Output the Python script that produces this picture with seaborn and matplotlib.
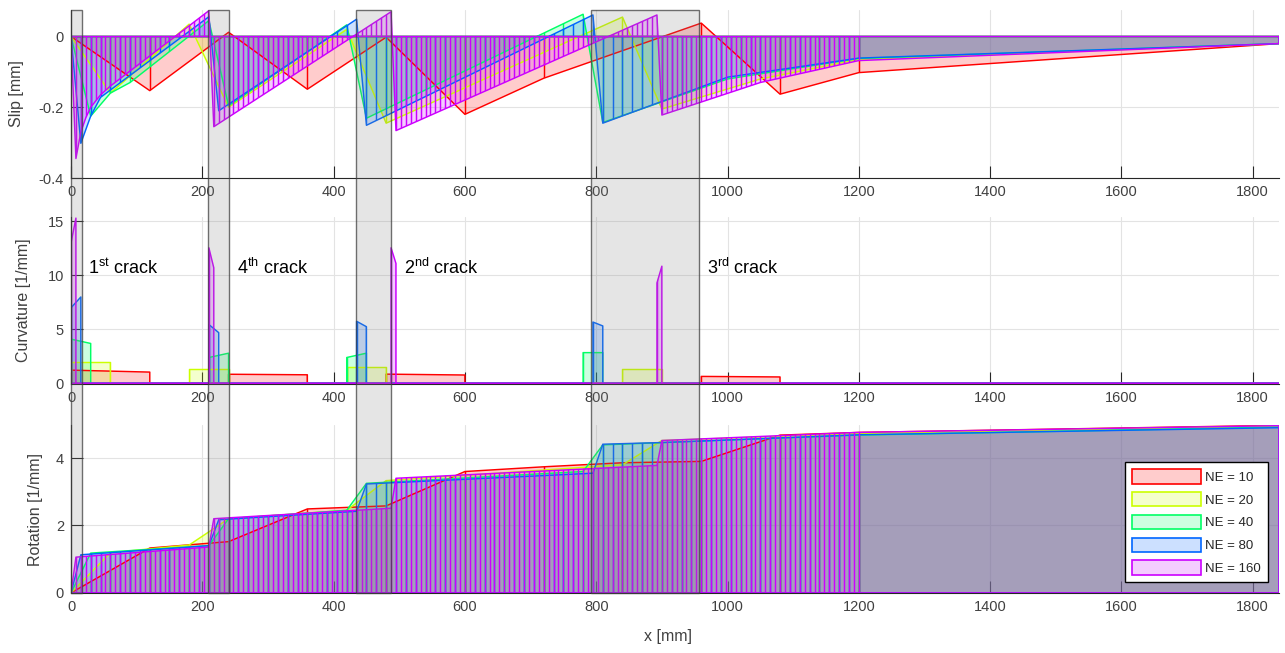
import numpy as np
import matplotlib
matplotlib.use("Agg")
import matplotlib.pyplot as plt
from matplotlib.colors import to_rgb
from matplotlib.patches import Polygon, Rectangle, Patch
import seaborn as sns

# ── Mesh / series definitions ────────────────────────────────────────────────
NE_VALUES = [10, 20, 40, 80, 160]
NE_LABELS = ["NE = 10", "NE = 20", "NE = 40", "NE = 80", "NE = 160"]
COLORS    = ["#ff0000", "#ccff00", "#00ff66", "#0066ff", "#cc00ff"]   # hsv(5)

L_MESH  = 1200.0   # refined part of the beam
L_TOTAL = 1840.0   # last element runs 1200 -> 1840

# ── Slip [mm] (breakpoints) ───────────────────────────────────────────────────
slip_x_ne10  = [0, 120, 240, 360, 480, 600, 720, 960, 1080, 1200, 1840]
slip_y_ne10  = [0, -0.153, 0.012, -0.149, -0.002, -0.22, -0.118, 0.038, -0.163, -0.102, -0.02]
slip_x_ne20  = [0, 60, 180, 240, 420, 480, 840, 900, 1050, 1200, 1840]
slip_y_ne20  = [0, -0.16, 0.035, -0.2, 0.02, -0.245, 0.055, -0.205, -0.12, -0.065, -0.02]
slip_x_ne40  = [0, 30, 60, 90, 210, 240, 420, 450, 780, 810, 1000, 1200, 1840]
slip_y_ne40  = [0, -0.225, -0.16, -0.13, 0.045, -0.196, 0.033, -0.231, 0.063, -0.243, -0.12, -0.062, -0.02]
slip_x_ne80  = [0, 15, 30, 45, 210, 225, 435, 450, 795, 810, 1000, 1200, 1840]
slip_y_ne80  = [0, -0.302, -0.225, -0.172, 0.056, -0.21, 0.049, -0.251, 0.061, -0.245, -0.115, -0.061, -0.02]
slip_x_ne160 = [0, 7.5, 15, 22.5, 30, 45, 60, 210, 217.5, 487.5, 495, 892.5, 900, 1050, 1200, 1840]
slip_y_ne160 = [0, -0.345, -0.27, -0.23, -0.2, -0.165, -0.14, 0.073, -0.255, 0.07, -0.266, 0.061, -0.222, -0.13, -0.068, -0.02]

# ── Curvature [1/mm]: non-zero elements (start, end, left value, right value) ─
curv_start_ne10  = [0, 240, 480, 960]
curv_end_ne10    = [120, 360, 600, 1080]
curv_left_ne10   = [1.23, 0.85, 0.86, 0.65]
curv_right_ne10  = [1.05, 0.80, 0.78, 0.60]
curv_start_ne20  = [0, 180, 420, 840]
curv_end_ne20    = [60, 240, 480, 900]
curv_left_ne20   = [1.95, 1.35, 1.55, 1.32]
curv_right_ne20  = [1.95, 1.35, 1.55, 1.32]
curv_start_ne40  = [0, 210, 420, 780]
curv_end_ne40    = [30, 240, 450, 810]
curv_left_ne40   = [4.1, 2.4, 2.4, 2.85]
curv_right_ne40  = [3.7, 2.8, 2.8, 2.85]
curv_start_ne80  = [0, 210, 435, 795]
curv_end_ne80    = [15, 225, 450, 810]
curv_left_ne80   = [7.0, 5.45, 5.75, 5.68]
curv_right_ne80  = [8.0, 4.7, 5.25, 5.32]
curv_start_ne160 = [0, 210, 487.5, 892.5]
curv_end_ne160   = [7.5, 217.5, 495, 900]
curv_left_ne160  = [13.0, 12.55, 12.55, 9.3]
curv_right_ne160 = [15.3, 10.7, 11.1, 10.85]

# ── Rotation [1/mm] ───────────────────────────────────────────────────────────
rot_x_ne10  = [0, 120, 240, 360, 480, 600, 720, 840, 960, 1080, 1200, 1840]
rot_y_ne10  = [0, 1.33, 1.52, 2.49, 2.58, 3.6, 3.74, 3.86, 3.9, 4.68, 4.76, 4.97]
rot_x_ne20  = [0, 60, 180, 240, 420, 480, 840, 900, 1200, 1840]
rot_y_ne20  = [0, 1.19, 1.42, 2.2, 2.45, 3.33, 3.8, 4.52, 4.73, 4.95]
rot_x_ne40  = [0, 30, 210, 240, 420, 450, 780, 810, 1200, 1840]
rot_y_ne40  = [0, 1.18, 1.4, 2.2, 2.45, 3.25, 3.6, 4.39, 4.68, 4.92]
rot_x_ne80  = [0, 15, 210, 225, 435, 450, 795, 810, 900, 1200, 1840]
rot_y_ne80  = [0, 1.13, 1.4, 2.17, 2.42, 3.23, 3.55, 4.41, 4.46, 4.69, 4.9]
rot_x_ne160 = [0, 7.5, 210, 217.5, 487.5, 495, 892.5, 900, 1200, 1840]
rot_y_ne160 = [0, 1.06, 1.36, 2.2, 2.51, 3.4, 3.78, 4.52, 4.76, 4.96]

# ── Crack zones (grey bands) and labels ───────────────────────────────────────
ZONE_START = [0, 209, 434, 792]
ZONE_END   = [16, 240, 488, 956]
CRACK_TEXT = ["1$^{st}$ crack", "4$^{th}$ crack", "2$^{nd}$ crack", "3$^{rd}$ crack"]
CRACK_X    = [26, 253, 507, 968]
CRACK_Y    = 10.7

X_TICKS      = [0, 200, 400, 600, 800, 1000, 1200, 1400, 1600, 1800]
SLIP_TICKS   = [-0.4, -0.2, 0]
SLIP_LABELS  = ["-0.4", "-0.2", "0"]
CURV_TICKS   = [0, 5, 10, 15]
ROT_TICKS    = [0, 2, 4]

FILL_ALPHA = 0.2
EDGE_LW    = 1.05
INK        = "#262626"
TICK_INK   = "#404040"

sns.set_theme(style="whitegrid")
plt.rcParams.update({
    "font.family": ["Liberation Sans", "DejaVu Sans"],
    "mathtext.default": "regular",
    "axes.unicode_minus": False,
    "grid.color": "#e3e3e3",
    "grid.linewidth": 0.8,
})


def curve_outline(xs, ys):
    px = [xs[0]] + list(xs) + [xs[-1], xs[0]]
    py = [0.0] + list(ys) + [0.0, 0.0]
    return np.asarray(px, float), np.asarray(py, float)


def block_outline(starts, ends, left, right):
    px, py = [0.0], [0.0]
    for s, e, a, b in zip(starts, ends, left, right):
        px += [s, s, e, e]
        py += [0.0, a, b, 0.0]
    px += [L_TOTAL, 0.0]
    py += [0.0, 0.0]
    return np.asarray(px, float), np.asarray(py, float)


def draw_series(ax, px, py, ne, color):
    """Area between field and zero line, element edges at the mesh nodes."""
    poly = Polygon(np.column_stack([px, py]), closed=True,
                   facecolor=(*to_rgb(color), FILL_ALPHA), edgecolor="none")
    ax.add_patch(poly)
    nodes = np.append(np.linspace(0, L_MESH, ne + 1), L_TOTAL)
    edges = ax.vlines(nodes, -100, 100, colors=color, linewidth=EDGE_LW)
    edges.set_clip_path(poly)
    sns.lineplot(x=px, y=py, sort=False, estimator=None, color=color,
                 linewidth=EDGE_LW, ax=ax)


W, H = 1285, 653
fig = plt.figure(figsize=(W / 100, H / 100), dpi=100)


def axes_px(left, top, right, bottom):
    return fig.add_axes([left / W, 1 - bottom / H, (right - left) / W, (bottom - top) / H])


ax1 = axes_px(71, 10, 1279, 178)
ax2 = axes_px(71, 217, 1279, 384.3)
ax3 = axes_px(71, 425, 1279, 593.2)

slip = [(slip_x_ne10, slip_y_ne10), (slip_x_ne20, slip_y_ne20), (slip_x_ne40, slip_y_ne40),
        (slip_x_ne80, slip_y_ne80), (slip_x_ne160, slip_y_ne160)]
curv = [(curv_start_ne10, curv_end_ne10, curv_left_ne10, curv_right_ne10),
        (curv_start_ne20, curv_end_ne20, curv_left_ne20, curv_right_ne20),
        (curv_start_ne40, curv_end_ne40, curv_left_ne40, curv_right_ne40),
        (curv_start_ne80, curv_end_ne80, curv_left_ne80, curv_right_ne80),
        (curv_start_ne160, curv_end_ne160, curv_left_ne160, curv_right_ne160)]
rot = [(rot_x_ne10, rot_y_ne10), (rot_x_ne20, rot_y_ne20), (rot_x_ne40, rot_y_ne40),
       (rot_x_ne80, rot_y_ne80), (rot_x_ne160, rot_y_ne160)]

for i, (ne, color) in enumerate(zip(NE_VALUES, COLORS)):
    draw_series(ax1, *curve_outline(*slip[i]), ne, color)
    draw_series(ax2, *block_outline(*curv[i]), ne, color)
    draw_series(ax3, *curve_outline(*rot[i]), ne, color)

for ax, ticks in ((ax1, SLIP_TICKS), (ax2, CURV_TICKS), (ax3, ROT_TICKS)):
    ax.set_xlim(0, L_TOTAL)
    ax.set_xticks(X_TICKS)
    ax.set_yticks(ticks)
    ax.set_facecolor("white")
    ax.grid(True)
    ax.set_axisbelow(True)
    for side in ("top", "right"):
        ax.spines[side].set_visible(False)
    for side in ("left", "bottom"):
        ax.spines[side].set_color(INK)
        ax.spines[side].set_linewidth(0.8)
    ax.tick_params(direction="in", length=8.7, width=0.8, color=INK,
                   labelcolor=TICK_INK, labelsize=10.5, pad=5,
                   bottom=True, left=True)

ax1.set_ylim(-0.4, 0.075)
ax1.set_yticklabels(SLIP_LABELS)
ax2.set_ylim(-0.08, 15.4)
ax3.set_ylim(-0.01, 4.98)

ax1.set_ylabel("Slip [mm]", fontsize=11.5, color=TICK_INK, va="center")
ax2.set_ylabel("Curvature [1/mm]", fontsize=11.5, color=TICK_INK, va="center")
ax3.set_ylabel("Rotation [1/mm]", fontsize=11.5, color=TICK_INK, va="center")
ax1.yaxis.set_label_coords(-0.0455, 0.5)
ax2.yaxis.set_label_coords(-0.039, 0.5)
ax3.yaxis.set_label_coords(-0.029, 0.5)
ax3.set_xlabel("x [mm]", fontsize=11.5, color=TICK_INK, va="center")
ax3.xaxis.set_label_coords((668 - 71) / 1208, -(636 - 593) / 168)

for txt, xt in zip(CRACK_TEXT, CRACK_X):
    ax2.text(xt, CRACK_Y, txt, fontsize=13, color="black", ha="left", va="center")

handles = [Patch(facecolor=(*to_rgb(c), FILL_ALPHA), edgecolor=c, linewidth=1.2, label=lab)
           for c, lab in zip(COLORS, NE_LABELS)]
leg = ax3.legend(handles=handles, loc="lower right", bbox_to_anchor=(0.991, 0.065),
                 borderaxespad=0, frameon=True, fancybox=False, framealpha=1,
                 edgecolor="black", fontsize=9.5, handlelength=5.2, handleheight=1.3,
                 labelspacing=0.62, handletextpad=0.35, borderpad=0.55)
leg.get_frame().set_linewidth(1.0)

# grey crack zones spanning all three panels
ov = axes_px(71, 10, 1279, 593.2)
ov.set_xlim(0, L_TOTAL)
ov.set_ylim(0, 1)
ov.axis("off")
ov.patch.set_alpha(0)
for s, e in zip(ZONE_START, ZONE_END):
    ov.add_patch(Rectangle((s, 0), e - s, 1, facecolor=(0.5, 0.5, 0.5, 0.2),
                           edgecolor=(0.25, 0.25, 0.25, 0.75), linewidth=1.0,
                           clip_on=False))

fig.savefig("out.png", dpi=100)
plt.close(fig)
